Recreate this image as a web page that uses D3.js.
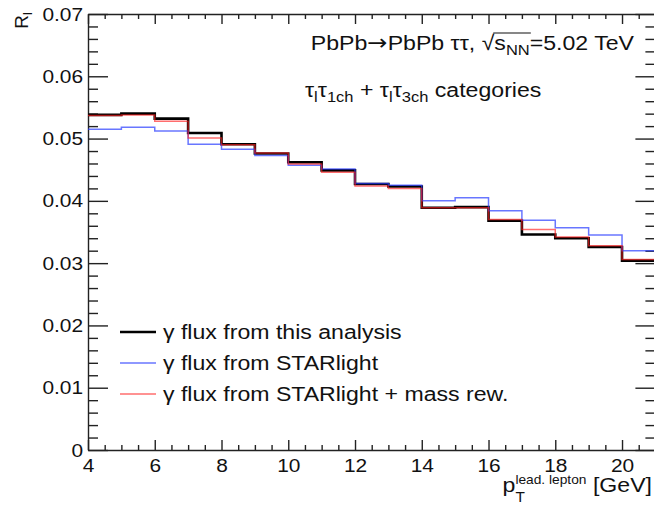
<!DOCTYPE html>
<html>
<head>
<meta charset="utf-8">
<script src="https://cdn.jsdelivr.net/npm/d3@7"></script>
<style>
  html, body { margin: 0; padding: 0; background: #fff; }
  svg { display: block; }
  text { font-family: 'Liberation Sans', Arial, Helvetica, sans-serif; fill: #111; white-space: pre; }
  .axis path, .axis line { stroke: #222; stroke-width: 1.4; }
</style>
</head>
<body>
<svg id="chart" width="654" height="506"></svg>
<script>
// Lower bin edges (GeV); every bin is 1 GeV wide, the last one ends at 21.
const binLow = [4, 5, 6, 7, 8, 9, 10, 11, 12, 13, 14, 15, 16, 17, 18, 19, 20];
const xMax = 21;

// R_l per bin for each photon-flux hypothesis.
const fluxThisAnalysis = [0.0538, 0.0540, 0.0532, 0.0509, 0.0491, 0.0476, 0.0462, 0.0449, 0.0427, 0.0423, 0.0389, 0.0390, 0.0368, 0.0346, 0.0340, 0.0326, 0.0304];
const fluxStarlight    = [0.0515, 0.0518, 0.0512, 0.0491, 0.0483, 0.0473, 0.0457, 0.0451, 0.0428, 0.0425, 0.0400, 0.0405, 0.0384, 0.0369, 0.0357, 0.0345, 0.0320];
const fluxStarlightRew = [0.0537, 0.0538, 0.0528, 0.0501, 0.0490, 0.0477, 0.0459, 0.0446, 0.0424, 0.0420, 0.0389, 0.0389, 0.0370, 0.0354, 0.0342, 0.0328, 0.0306];

const legendLabels = ["γ flux from this analysis", "γ flux from STARlight", "γ flux from STARlight + mass rew."];

const xMajorTicks = [4, 6, 8, 10, 12, 14, 16, 18, 20];
const yMajorTicks = [0, 0.01, 0.02, 0.03, 0.04, 0.05, 0.06, 0.07];

const SX = 1.1;      // horizontal stretch of the lettering
const FS = 19;       // tick label size
const FT = 21;       // label / legend size

const svg = d3.select("#chart");
const L = 88, R = 655.4, T = 14, B = 450;

const x = d3.scaleLinear().domain([4, xMax]).range([L, R]);
const y = d3.scaleLinear().domain([0, 0.07]).range([B, T]);

const xMinorTicks = d3.range(4, xMax + 0.001, 0.5).filter(v => !xMajorTicks.includes(v));
const yMinorTicks = d3.range(0, 0.0701, 0.002).filter(v => Math.abs(Math.round(v * 100) - v * 100) > 1e-6);

function stretchLabels(g) {
  g.selectAll("text").attr("font-size", FS).attr("transform", `scale(${SX},1)`);
}

// bottom axis
const gB = svg.append("g").attr("class", "axis").attr("transform", `translate(0,${B})`)
  .call(d3.axisBottom(x).tickValues(xMajorTicks).tickSizeInner(-10).tickSizeOuter(0).tickPadding(8.5).tickFormat(d3.format("d")));
gB.call(stretchLabels);
svg.append("g").attr("class", "axis").attr("transform", `translate(0,${B})`)
  .call(d3.axisBottom(x).tickValues(xMinorTicks).tickSizeInner(-5).tickSizeOuter(0).tickFormat(""))
  .select(".domain").remove();

// top axis
svg.append("g").attr("class", "axis").attr("transform", `translate(0,${T})`)
  .call(d3.axisTop(x).tickValues(xMajorTicks).tickSizeInner(-10).tickSizeOuter(0).tickFormat(""));
svg.append("g").attr("class", "axis").attr("transform", `translate(0,${T})`)
  .call(d3.axisTop(x).tickValues(xMinorTicks).tickSizeInner(-5).tickSizeOuter(0).tickFormat(""))
  .select(".domain").remove();

// left axis
const gL = svg.append("g").attr("class", "axis").attr("transform", `translate(${L},0)`)
  .call(d3.axisLeft(y).tickValues(yMajorTicks).tickSizeInner(-20).tickSizeOuter(0).tickPadding(4.5)
    .tickFormat(d => d === 0 ? "0" : d.toFixed(2)));
gL.call(stretchLabels);
svg.append("g").attr("class", "axis").attr("transform", `translate(${L},0)`)
  .call(d3.axisLeft(y).tickValues(yMinorTicks).tickSizeInner(-10).tickSizeOuter(0).tickFormat(""))
  .select(".domain").remove();

// right axis
svg.append("g").attr("class", "axis").attr("transform", `translate(${R},0)`)
  .call(d3.axisRight(y).tickValues(yMajorTicks).tickSizeInner(-20).tickSizeOuter(0).tickFormat(""));
svg.append("g").attr("class", "axis").attr("transform", `translate(${R},0)`)
  .call(d3.axisRight(y).tickValues(yMinorTicks).tickSizeInner(-10).tickSizeOuter(0).tickFormat(""))
  .select(".domain").remove();

// histograms drawn as steps
const step = d3.line().x(d => x(d[0])).y(d => y(d[1])).curve(d3.curveStepAfter);
function stepPoints(vals) {
  const pts = binLow.map((e, i) => [e, vals[i]]);
  pts.push([xMax, vals[vals.length - 1]]);
  return pts;
}
const series = [
  { vals: fluxThisAnalysis, color: "#000", width: 2.6 },
  { vals: fluxStarlight,    color: "rgba(40,60,255,0.7)", width: 1.5 },
  { vals: fluxStarlightRew, color: "rgba(255,30,30,0.65)", width: 1.5 }
];
series.forEach(s => {
  svg.append("path").attr("d", step(stepPoints(s.vals)))
    .attr("fill", "none").attr("stroke", s.color).attr("stroke-width", s.width);
});

// text with sub/superscripts laid out piece by piece
function rich(parent, px, py, parts, anchor) {
  const g = parent.append("g");
  const inner = g.append("g");
  let cx = 0;
  const pos = [];
  parts.forEach(p => {
    const t = inner.append("text").attr("x", cx).attr("y", p.dy || 0)
      .attr("font-size", p.size || FT).text(p.t);
    if (p.family) t.style("font-family", p.family);
    const w = t.node().getComputedTextLength();
    pos.push({ x0: cx, x1: cx + w });
    if (!p.stay) cx += w + (p.gap || 0);
  });
  const shift = anchor === "end" ? -cx : anchor === "middle" ? -cx / 2 : 0;
  inner.attr("transform", `translate(${shift},0)`);
  g.attr("transform", `translate(${px},${py}) scale(${SX},1)`);
  return { inner, pos, width: cx };
}

// process label
const t1 = rich(svg, 634, 50, [
  { t: "PbPb" },
  { t: "→", family: "'DejaVu Sans', sans-serif", size: 22 },
  { t: "PbPb ττ, " },
  { t: "√" },
  { t: "s" },
  { t: "NN", size: 15, dy: 5 },
  { t: "=5.02 TeV" }
], "end");
t1.inner.append("line")
  .attr("x1", t1.pos[3].x1 - 1).attr("x2", t1.pos[5].x1 + 1)
  .attr("y1", -17).attr("y2", -17)
  .attr("stroke", "#111").attr("stroke-width", 1.1);

// category label
const sub = 15;
rich(svg, 305, 97, [
  { t: "τ" }, { t: "l", size: sub, dy: 5 },
  { t: "τ" }, { t: "1ch", size: sub, dy: 5 },
  { t: " + τ" }, { t: "l", size: sub, dy: 5 },
  { t: "τ" }, { t: "3ch", size: sub, dy: 5 },
  { t: " categories" }
], "start");

// legend
const legY = [332, 363, 394];
series.forEach((s, i) => {
  svg.append("line").attr("x1", 120).attr("x2", 156).attr("y1", legY[i]).attr("y2", legY[i])
    .attr("stroke", s.color).attr("stroke-width", i === 0 ? 2.6 : 1.5);
  rich(svg, 163, legY[i] + 7, [{ t: legendLabels[i] }], "start");
});

// x-axis title: p_T with the "lead. lepton" superscript
rich(svg, 652, 492, [
  { t: "p" },
  { t: "T", size: 14, dy: 9.5, stay: true },
  { t: "lead. lepton", size: 12.5, dy: -8 },
  { t: " [GeV]" }
], "end");

// y-axis title
const yTitle = svg.append("text").attr("transform", "translate(28,12) rotate(-90)")
  .attr("text-anchor", "end").attr("font-size", FS);
yTitle.append("tspan").text("R");
yTitle.append("tspan").attr("font-size", 13).attr("dy", 4).text("l");
</script>
</body>
</html>
